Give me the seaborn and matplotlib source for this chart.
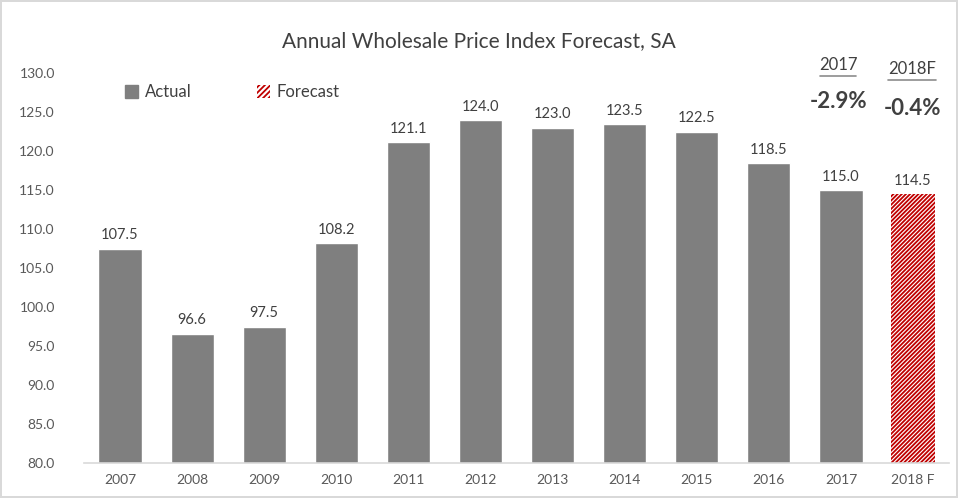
import numpy as np
import pandas as pd
import matplotlib.pyplot as plt
from matplotlib.patches import Patch
import seaborn as sns

years = ['2007', '2008', '2009', '2010', '2011', '2012', '2013', '2014', '2015', '2016', '2017', '2018 F']
values = [107.5, 96.6, 97.5, 108.2, 121.1, 124.0, 123.0, 123.5, 122.5, 118.5, 115.0, 114.5]
kinds = ['Actual'] * 11 + ['Forecast']
y_ticks = [80, 85, 90, 95, 100, 105, 110, 115, 120, 125, 130]
change_years = ['2017', '2018F']
change_values = ['-2.9%', '-0.4%']

sns.set_theme(style='white')
plt.rcParams['font.family'] = ['Lato', 'DejaVu Sans']
plt.rcParams['hatch.linewidth'] = 1.3

gray = '#7f7f7f'
red = '#c00000'
text_gray = '#595959'

df = pd.DataFrame({'year': years, 'value': values, 'kind': kinds})

fig = plt.figure(figsize=(9.58, 4.98), dpi=100)
fig.patch.set_edgecolor('#d9d9d9')
fig.patch.set_linewidth(1.5)
ax = fig.add_axes([0.0877, 0.0703, 0.903, 0.783])

sns.barplot(data=df, x='year', y='value', hue='kind',
            palette={'Actual': gray, 'Forecast': 'white'},
            dodge=False, width=0.6, legend=False, ax=ax, saturation=1)

for p in ax.patches:
  if p.get_facecolor()[:3] == (1.0, 1.0, 1.0):
    p.set_hatch('////////')
    p.set_edgecolor(red)
    p.set_linewidth(0)

for i, v in enumerate(values):
  ax.text(i, v + 0.8, f'{v:.1f}', ha='center', va='bottom', fontsize=10.5, color='#404040')

ax.set_ylim(80, 130)
ax.set_yticks(y_ticks)
ax.set_yticklabels([f'{t:.1f}' for t in y_ticks], fontsize=10, color=text_gray)
ax.tick_params(axis='x', labelsize=10, labelcolor=text_gray, length=0, pad=8)
ax.tick_params(axis='y', length=0, pad=21)
ax.set_xlabel('')
ax.set_ylabel('')
for side in ['top', 'right', 'left']:
  ax.spines[side].set_visible(False)
ax.spines['bottom'].set_color('#d9d9d9')
ax.spines['bottom'].set_linewidth(1.2)

fig.text(0.5, 0.918, 'Annual Wholesale Price Index Forecast, SA', ha='center', va='center',
         fontsize=15, color='#404040')

handles = [Patch(facecolor=gray, edgecolor=gray),
           Patch(facecolor='white', edgecolor=red, hatch='//////', linewidth=0)]
ax.legend(handles, ['Actual', 'Forecast'], ncol=2, frameon=False, loc='upper left',
          bbox_to_anchor=(0.03, 1.01), fontsize=12, labelcolor='#404040',
          handlelength=0.8, handleheight=0.8, handletextpad=0.4, columnspacing=3.9)

xs = [0.875, 0.952]
ys_head = [0.869, 0.861]
ys_val = [0.797, 0.783]
half_w = [0.019, 0.025]
for x, yh, yv, w, lab, val in zip(xs, ys_head, ys_val, half_w, change_years, change_values):
  fig.text(x, yh, lab, ha='center', va='center', fontsize=12, color='#404040')
  fig.add_artist(plt.Line2D([x - w, x + w], [yh - 0.021, yh - 0.021], color='#8c8c8c', lw=1.2,
                            transform=fig.transFigure))
  fig.text(x, yv, val, ha='center', va='center', fontsize=16, fontweight='bold', color='#404040')

fig.savefig('out.png', dpi=100, edgecolor=fig.get_edgecolor())
